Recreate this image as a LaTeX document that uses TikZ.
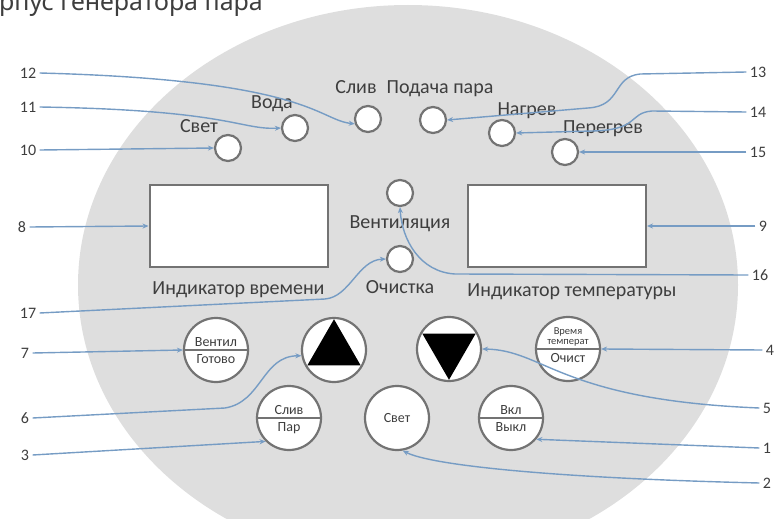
\documentclass[tikz,border=0pt]{standalone}
\usepackage{fontspec}
\setmainfont{Carlito}
\newfontfamily\headfont{Noto Sans}
\usetikzlibrary{positioning,arrows.meta,calc}
\definecolor{panel}{RGB}{222,222,222}
\definecolor{rim}{RGB}{115,115,115}
\definecolor{ink}{RGB}{62,62,62}
\definecolor{leadc}{RGB}{118,156,196}

\begin{document}
\begin{tikzpicture}[x=1pt,y=-1pt,
    lamp/.style={circle,draw=rim,fill=white,line width=2.2pt,minimum size=26pt,inner sep=0pt},
    knob/.style={circle,draw=rim,fill=white,line width=2.2pt,minimum size=64pt,inner sep=0pt},
    screen/.style={draw=rim,fill=white,line width=2pt,minimum width=178pt,minimum height=82pt,inner sep=0pt},
    caption/.style={text=ink,font=\fontsize{20}{20}\selectfont,inner sep=1pt,text height=14pt,text depth=5pt},
    keytext/.style={text=ink,font=\fontsize{14}{14}\selectfont,inner sep=1pt},
    num/.style={text=ink,font=\fontsize{16}{16}\selectfont},
    divider/.style={draw=rim,line width=1.6pt},
    pointer/.style={draw=leadc,line width=1.4pt,-{Stealth[length=6pt,width=5pt]}}]
    \useasboundingbox (0,0) rectangle (780,519);
    \clip (0,0) rectangle (780,519);
    \fill[panel] (408,285) ellipse [x radius=330,y radius=280];
    \node[anchor=base west,inner sep=0pt,text=ink,font=\headfont\fontsize{25}{25}\selectfont] (head) at (-1,11) {рпус генератора пара};

    \node[lamp] (svet) at (228,148) {};
    \node[lamp] (voda) at (295,128) {};
    \node[lamp] (sliv) at (368,119) {};
    \node[lamp] (podacha) at (433,120) {};
    \node[lamp] (nagrev) at (502,133) {};
    \node[lamp] (peregrev) at (565,152) {};
    \node[lamp] (vent) at (400,193) {};
    \node[lamp] (ochistka) at (400,259) {};

    \node[caption,above=-5pt of svet,xshift=-29pt] (svetcap) {Свет};
    \node[caption,above=-1pt of voda,xshift=-23pt] (vodacap) {Вода};
    \node[caption,above=5pt of sliv,xshift=-12pt] (slivcap) {Слив};
    \node[caption,above=6pt of podacha,xshift=7pt] (podachacap) {Подача пара};
    \node[caption,above=-3pt of nagrev,xshift=25pt] (nagrevcap) {Нагрев};
    \node[caption,above=-2pt of peregrev,xshift=38pt] (peregrevcap) {Перегрев};
    \node[caption,below=6.5pt of vent] (ventcap) {Вентиляция};
    \node[caption,below=5.5pt of ochistka] (ochistkacap) {Очистка};

    \node[screen] (timescreen) at (238.5,226) {};
    \node[screen] (tempscreen) at (557,226) {};
    \node[caption,below=11pt of timescreen] (timecap) {Индикатор времени};
    \node[caption,below=13pt of tempscreen,xshift=15pt] (tempcap) {Индикатор температуры};

    \node[knob] (b7) at (216,350) {};
    \node[knob] (up) at (334,350) {};
    \node[knob] (down) at (449,349) {};
    \node[knob] (b4) at (568,349) {};
    \node[knob] (b3) at (289,418) {};
    \node[knob] (bigsvet) at (397,418) {};
    \node[knob] (b1) at (511,418) {};

    \draw[divider] (b7.west) -- (b7.east);
    \node[keytext,above=2pt of b7.center] (b7top) {Вентил};
    \node[keytext,below=3pt of b7.center] (b7bot) {Готово};
    \draw[divider] (b3.west) -- (b3.east);
    \node[keytext,above=2pt of b3.center] (b3top) {Слив};
    \node[keytext,below=3pt of b3.center] (b3bot) {Пар};
    \draw[divider] (b4.west) -- (b4.east);
    \node[keytext,align=center,font=\fontsize{10.5}{10.5}\selectfont,above=1.5pt of b4.center] (b4top) {Время\\температ};
    \node[keytext,below=3pt of b4.center] (b4bot) {Очист};
    \draw[divider] (b1.west) -- (b1.east);
    \node[keytext,above=2pt of b1.center] (b1top) {Вкл};
    \node[keytext,below=3pt of b1.center] (b1bot) {Выкл};
    \node[keytext] (bigsvettxt) at (bigsvet) {Свет};
    \fill ($(up.center)!0.93!(up.90)$) -- ($(up.center)!0.93!(up.210)$) -- ($(up.center)!0.93!(up.330)$) -- cycle;
    \fill ($(down.center)!0.93!(down.270)$) -- ($(down.center)!0.93!(down.30)$) -- ($(down.center)!0.93!(down.150)$) -- cycle;

    \node[num] (n12) at (28,73) {12};
    \node[num] (n11) at (28,107) {11};
    \node[num] (n10) at (28,150) {10};
    \node[num] (n8) at (22,227) {8};
    \node[num] (n17) at (28,313) {17};
    \node[num] (n7) at (25,353) {7};
    \node[num] (n6) at (25,418) {6};
    \node[num] (n3) at (25,455) {3};
    \node[num] (n13) at (758,72) {13};
    \node[num] (n14) at (758,112) {14};
    \node[num] (n15) at (758,152) {15};
    \node[num] (n9) at (763,226) {9};
    \node[num] (n16) at (760,275) {16};
    \node[num] (n4) at (770,350) {4};
    \node[num] (n5) at (767,408) {5};
    \node[num] (n1) at (767,448) {1};
    \node[num] (n2) at (767,483) {2};

    \draw[pointer] (n12.east) .. controls (310,80) and (318,120) .. (sliv.200);
    \draw[pointer] (n11.east) .. controls (230,110) and (240,130) .. (voda.west);
    \draw[pointer] (n10.east) -- (svet.west);
    \draw[pointer] (n8.east) -- (timescreen.west);
    \draw[pointer] (n17.east) -- (325,299) .. controls (350,297) and (358,260) .. (ochistka.west);
    \draw[pointer] (n7.east) -- (b7.west);
    \draw[pointer] (n6.east) -- (225,408) .. controls (262,402) and (262,356) .. (up.190);
    \draw[pointer] (n3.east) -- (b3.225);
    \draw[pointer] (n13.west) -- (640,74) .. controls (612,77) and (622,106) .. (588,108) -- (podacha.east);
    \draw[pointer] (n14.west) -- (652,111) .. controls (628,113) and (640,130) .. (592,131) -- (nagrev.east);
    \draw[pointer] (n15.west) -- (peregrev.east);
    \draw[pointer] (n9.west) -- (tempscreen.east);
    \draw[pointer] (n16.west) -- (455,274) .. controls (420,272) and (402,240) .. (vent.south);
    \draw[pointer] (n4.west) -- (b4.east);
    \draw[pointer] (n5.west) .. controls (560,400) and (545,350) .. (down.east);
    \draw[pointer] (n1.west) -- (b1.320);
    \draw[pointer] (n2.west) .. controls (550,478) and (430,465) .. (bigsvet.280);
\end{tikzpicture}
\end{document}
